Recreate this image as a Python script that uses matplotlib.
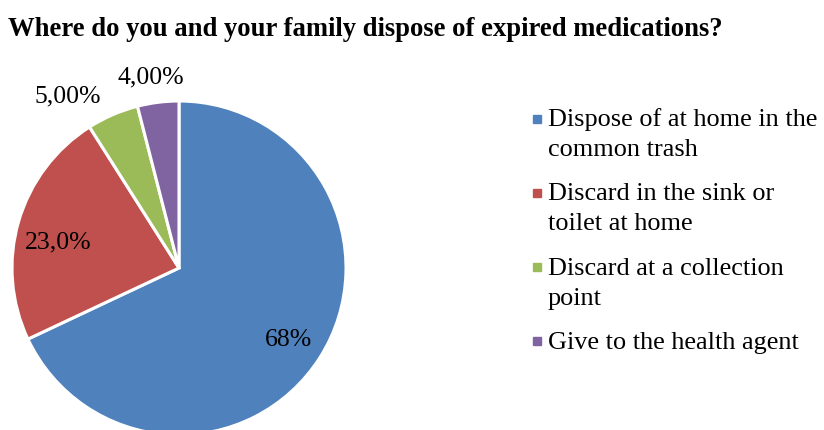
import matplotlib
matplotlib.use("Agg")
import matplotlib.pyplot as plt

# Survey responses
categories = [
    "Dispose of at home in the\ncommon trash",
    "Discard in the sink or\ntoilet at home",
    "Discard at a collection\npoint",
    "Give to the health agent",
]
shares = [68, 23, 5, 4]
value_labels = ["68%", "23,0%", "5,00%", "4,00%"]
colors = ["#4F81BD", "#C0504D", "#9BBB59", "#8064A2"]
title = "Where do you and your family dispose of expired medications?"

W, H = 824, 430
fig = plt.figure(figsize=(W / 100, H / 100), dpi=100)
ax = fig.add_axes([0, 0, 1, 1])
ax.set_xlim(0, W)
ax.set_ylim(0, H)
ax.set_aspect("equal")
ax.axis("off")

serif = "Liberation Serif"
cx, cy, r = 179, H - 268, 167

wedges, _ = ax.pie(
    shares, colors=colors, startangle=90, counterclock=False,
    center=(cx, cy), radius=r,
    wedgeprops=dict(edgecolor="white", linewidth=2.2),
)
ax.set_xlim(0, W)
ax.set_ylim(0, H)

# Value labels
label_pos = [(289, 340), (58, 242), (68, 96), (151, 77)]
for (px, py), txt in zip(label_pos, value_labels):
    ax.text(px, H - py, txt, ha="center", va="center",
            fontsize=18.5, family=serif, color="black")

fig.text(8 / W, 1 - 29 / H, title, ha="left", va="center",
         fontsize=19.2, family=serif, fontweight="bold")

# Legend: square key plus wrapped label lines
entry_top = 126      # baseline of first legend line (px from top)
entry_step = 74.3    # distance between entries
line_step = 30       # distance between wrapped lines
for i, (label, c) in enumerate(zip(categories, colors)):
    base = entry_top + i * entry_step
    ax.plot([537], [H - base + 7.5], marker="s", markersize=5.4,
            color=c, linestyle="none")
    for j, line in enumerate(label.split("\n")):
        ax.text(548, H - base - j * line_step, line, ha="left",
                va="baseline", fontsize=18.9, family=serif, color="black")

fig.savefig("out.png", dpi=100)
